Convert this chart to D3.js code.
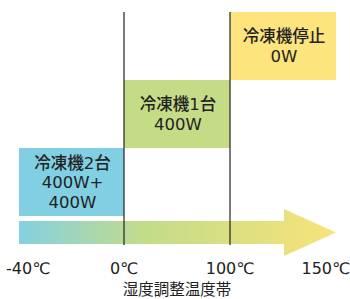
<!DOCTYPE html>
<html>
<head>
<meta charset="utf-8">
<script src="https://cdn.jsdelivr.net/npm/d3@7"></script>
<style>
  html, body { margin: 0; padding: 0; background: #fff; }
  svg text { font-family: "DejaVu Sans", "Noto Sans CJK JP", sans-serif; fill: #222; }
</style>
</head>
<body>
<svg id="chart" width="350" height="299"></svg>
<script>
// temperature breakpoints (axis ticks)
var temps = [-40, 0, 100, 150];
var tickLabels = ["-40℃", "0℃", "100℃", "150℃"];
// one box per temperature band
var bandFrom = [-40, 0, 100];
var bandTo = [0, 100, 150];
var bandPower = [800, 400, 0];
var bandText = [["冷凍機2台", "400W+", "400W"], ["冷凍機1台", "400W"], ["冷凍機停止", "0W"]];
var bandColor = ["#80cfe2", "#c4dc86", "#fde47c"];
var powerLevels = [0, 400, 800];
var dividers = [0, 100];
var axisTitle = "湿度調整温度帯";

var svg = d3.select("#chart");
var W = 350;

// axis is not linear: piecewise scale through the breakpoints
var x = d3.scaleLinear().domain(temps).range([19, 124, 230, 336]);
var y = d3.scaleBand().domain(powerLevels).range([12, 216]).padding(0);

var bands = bandFrom.map(function (f, i) {
    return { from: f, to: bandTo[i], power: bandPower[i], text: bandText[i], color: bandColor[i] };
});

// gradient arrow
var defs = svg.append("defs");
var grad = defs.append("linearGradient").attr("id", "arrowGrad")
    .attr("gradientUnits", "userSpaceOnUse")
    .attr("x1", x(-40)).attr("x2", x(150)).attr("y1", 0).attr("y2", 0);
grad.append("stop").attr("offset", "0%").attr("stop-color", "#84d0e2");
grad.append("stop").attr("offset", "40%").attr("stop-color", "#c3dc88");
grad.append("stop").attr("offset", "100%").attr("stop-color", "#f8e37a");

var bodyTop = 221, bodyBot = 244, headTop = 209, headBot = 256, headLen = 52;
var x0 = x(-40), xt = x(150), mid = (bodyTop + bodyBot) / 2;
svg.append("path")
    .attr("d", "M" + x0 + "," + bodyTop + "L" + (xt - headLen) + "," + bodyTop +
        "L" + (xt - headLen) + "," + headTop + "L" + xt + "," + mid +
        "L" + (xt - headLen) + "," + headBot + "L" + (xt - headLen) + "," + bodyBot +
        "L" + x0 + "," + bodyBot + "Z")
    .attr("fill", "url(#arrowGrad)");

// band boxes
var g = svg.selectAll("g.band").data(bands).enter().append("g").attr("class", "band");
g.append("rect")
    .attr("x", function (d) { return x(d.from); })
    .attr("y", function (d) { return y(d.power); })
    .attr("width", function (d) { return x(d.to) - x(d.from); })
    .attr("height", y.bandwidth())
    .attr("fill", function (d) { return d.color; });
var lh = 19.5;
g.each(function (d) {
    var cx = (x(d.from) + x(d.to)) / 2 + 1;
    var cy = y(d.power) + y.bandwidth() / 2;
    var n = d.text.length;
    // one text element, one tspan per line
    d3.select(this).append("text")
        .attr("text-anchor", "middle")
        .attr("font-size", 16.5)
        .attr("font-weight", 500)
        .selectAll("tspan").data(d.text).enter().append("tspan")
        .attr("x", cx)
        .attr("y", function (t, i) { return cy + (i - (n - 1) / 2) * lh + 6; })
        .text(function (t) { return t; });
});

// divider lines
svg.selectAll("line.div").data(dividers).enter().append("line")
    .attr("class", "div")
    .attr("x1", function (d) { return x(d); }).attr("x2", function (d) { return x(d); })
    .attr("y1", 12).attr("y2", 245)
    .attr("stroke", "#222").attr("stroke-width", 1.2);

// tick labels, kept inside the picture
svg.selectAll("text.tick").data(temps).enter().append("text")
    .attr("class", "tick")
    .attr("y", 274)
    .attr("font-size", 16)
    .attr("text-anchor", "middle")
    .text(function (d, i) { return tickLabels[i]; })
    .attr("x", function (d) {
        var w = this.getComputedTextLength();
        return Math.max(6 + w / 2, Math.min(x(d), W - w / 2));
    });

svg.append("text")
    .attr("x", 177).attr("y", 295)
    .attr("text-anchor", "middle")
    .attr("font-size", 15.5)
    .text(axisTitle);
</script>
</body>
</html>
